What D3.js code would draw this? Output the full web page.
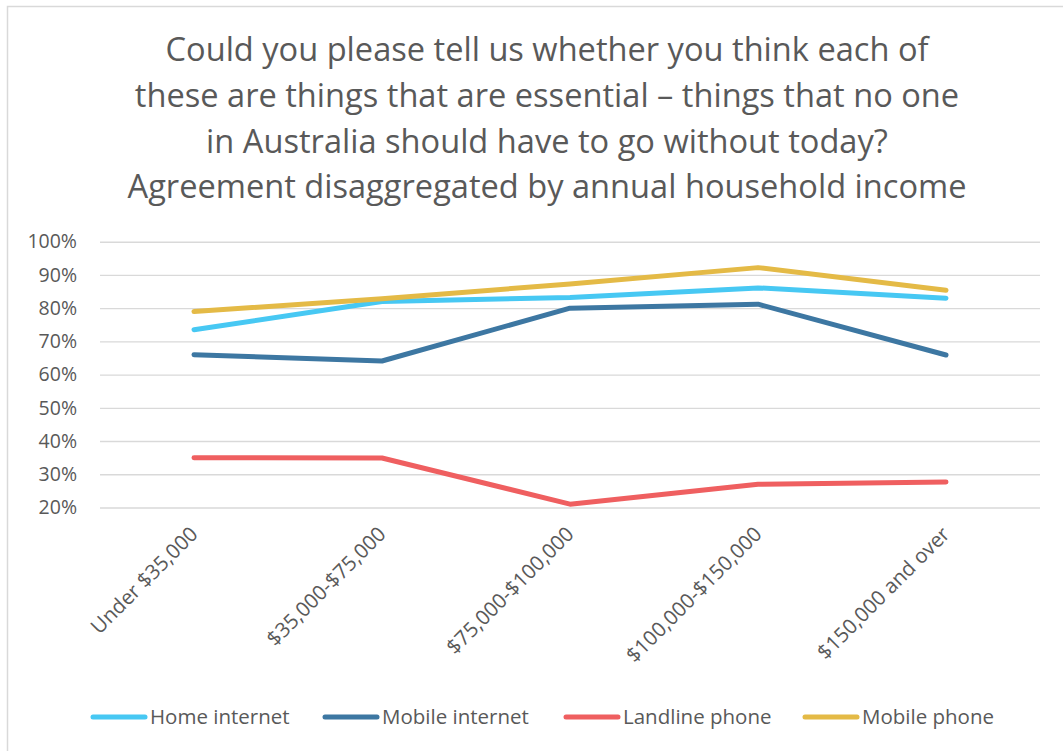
<!DOCTYPE html>
<html>
<head>
<meta charset="utf-8">
<script src="https://cdn.jsdelivr.net/npm/d3@7/dist/d3.min.js"></script>
<style>
  html, body { margin: 0; padding: 0; background: #fff; }
  svg { display: block; }
  text { font-family: "Open Sans", "DejaVu Sans", sans-serif; fill: #595959; }
</style>
</head>
<body>
<svg id="chart" width="1063" height="751"></svg>
<script>
// Income brackets along the x axis
const categories = ["Under $35,000", "$35,000-$75,000", "$75,000-$100,000", "$100,000-$150,000", "$150,000 and over"];

// Share agreeing each item is essential, per bracket
const homeInternet   = [0.735, 0.82, 0.832, 0.861, 0.83];
const mobileInternet = [0.66, 0.641, 0.80, 0.812, 0.659];
const landlinePhone  = [0.35, 0.349, 0.21, 0.27, 0.277];
const mobilePhone    = [0.79, 0.828, 0.873, 0.922, 0.854];

const seriesNames  = ["Home internet", "Mobile internet", "Landline phone", "Mobile phone"];
const seriesColors = ["#47C8F3", "#3D77A2", "#EF5F60", "#E4BA46"];
const yTicks = [0.2, 0.3, 0.4, 0.5, 0.6, 0.7, 0.8, 0.9, 1.0];

const titleLines = [
  "Could you please tell us whether you think each of",
  "these are things that are essential \u2013 things that no one",
  "in Australia should have to go without today?",
  "Agreement disaggregated by annual household income"
];

const series = [homeInternet, mobileInternet, landlinePhone, mobilePhone].map((values, i) => ({
  name: seriesNames[i], color: seriesColors[i], values
}));

const svg = d3.select("#chart");

// Chart frame
svg.append("rect")
  .attr("x", 7.5).attr("y", 6.5)
  .attr("width", 1100).attr("height", 800)
  .attr("fill", "none").attr("stroke", "#d9d9d9").attr("stroke-width", 1.5);

// Title, squeezed horizontally to a condensed look
const title = svg.append("g");
const titleSize = 32.5;
const tl = title.selectAll("text").data(titleLines).join("text")
  .attr("x", 547).attr("y", (d, i) => 61 + i * 45.8)
  .attr("text-anchor", "middle")
  .style("font-size", titleSize + "px")
  .text(d => d);
const firstW = tl.node().getComputedTextLength();
const squeeze = 763 / firstW;
tl.each(function () {
  const w = this.getComputedTextLength();
  d3.select(this).attr("textLength", w * squeeze).attr("lengthAdjust", "spacingAndGlyphs");
});

// Scales
const x = d3.scaleBand().domain(categories).range([100, 1040]);
const y = d3.scaleLinear().domain([0.2, 1.0]).range([507.5, 241.7]);
const cx = d => x(d) + x.bandwidth() / 2;

// Gridlines and y labels
const yAxis = d3.axisLeft(y)
  .tickValues(yTicks)
  .tickSize(-940)
  .tickPadding(23)
  .tickFormat(d3.format(".0%"));
const yg = svg.append("g").attr("transform", "translate(100,0)").call(yAxis);
yg.select(".domain").remove();
yg.selectAll(".tick line").attr("stroke", "#d9d9d9").attr("stroke-width", 1.4);
yg.selectAll(".tick text")
  .attr("fill", "#595959")
  .style("font-size", "19.5px")
  .style("font-family", '"Open Sans", sans-serif');

// X labels, rotated
const xAxis = d3.axisBottom(x).tickSize(0).tickPadding(0);
const xg = svg.append("g").attr("transform", "translate(0,507.5)").call(xAxis);
xg.select(".domain").remove();
xg.selectAll(".tick text")
  .attr("fill", "#595959")
  .style("font-size", "20.5px")
  .style("font-family", '"Open Sans", sans-serif')
  .attr("text-anchor", "end")
  .attr("dy", null)
  .attr("y", 0)
  .attr("transform", "translate(5,28) rotate(-45)");

// Series lines
const line = d3.line()
  .x((d, i) => cx(categories[i]))
  .y(d => y(d));

svg.append("g").selectAll("path").data(series).join("path")
  .attr("d", d => line(d.values))
  .attr("fill", "none")
  .attr("stroke", d => d.color)
  .attr("stroke-width", 5)
  .attr("stroke-linecap", "round")
  .attr("stroke-linejoin", "round");

// Legend
const legend = svg.append("g");
const legendStarts = [91, 323, 564, 803];
series.forEach((s, i) => {
  const g = legend.append("g").attr("transform", `translate(${legendStarts[i]},717)`);
  g.append("line")
    .attr("x1", 2).attr("x2", 54).attr("y1", 0).attr("y2", 0)
    .attr("stroke", s.color).attr("stroke-width", 5).attr("stroke-linecap", "round");
  g.append("text")
    .attr("x", 59).attr("y", 0).attr("dy", "0.35em")
    .style("font-size", "20.5px")
    .text(s.name);
});
</script>
</body>
</html>
